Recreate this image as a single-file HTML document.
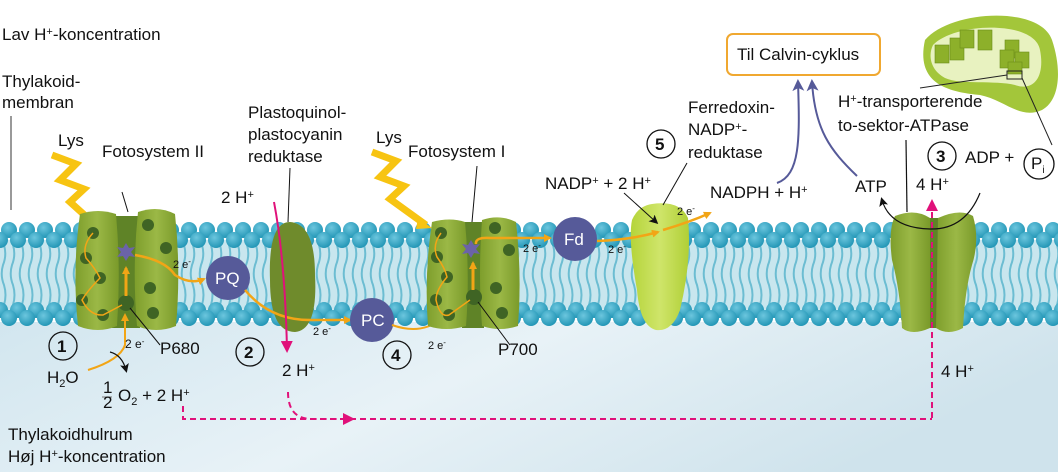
<!DOCTYPE html>
<html><head><meta charset="utf-8"><style>
html,body{margin:0;padding:0;background:#fff}
svg{display:block}
text{font-family:"Liberation Sans",sans-serif;font-size:17px;fill:#111}
.s{font-size:11px}
</style></head><body>
<svg width="1058" height="472" viewBox="0 0 1058 472" xmlns="http://www.w3.org/2000/svg">
<defs>
<linearGradient id="lum" x1="0" y1="0" x2="1" y2="0.3">
<stop offset="0" stop-color="#d2e6ef"/><stop offset="0.5" stop-color="#e8f2f7"/><stop offset="1" stop-color="#cfe3ec"/></linearGradient>
<radialGradient id="hd" cx="0.4" cy="0.35" r="0.7"><stop offset="0" stop-color="#6cc6de"/><stop offset="1" stop-color="#1e93b3"/></radialGradient>
<pattern id="lip" x="0" y="220" width="18" height="110" patternUnits="userSpaceOnUse">
<rect x="0" y="20" width="18" height="75" fill="#c8e6ee"/>
<path d="M4 25 q3 10 -1 20 q-3 10 1 20 q3 10 0 20 M13 25 q3 10 -1 20 q-3 10 1 20 q3 10 0 20" stroke="#6cbdd2" stroke-width="2" fill="none"/>
<circle cx="9" cy="10" r="8" fill="url(#hd)"/>
<circle cx="0" cy="20" r="8" fill="url(#hd)"/><circle cx="18" cy="20" r="8" fill="url(#hd)"/>
<circle cx="0" cy="90" r="8" fill="url(#hd)"/><circle cx="18" cy="90" r="8" fill="url(#hd)"/>
<circle cx="9" cy="98" r="8" fill="url(#hd)"/>
</pattern>
<linearGradient id="gr" x1="0" x2="1"><stop offset="0" stop-color="#7e9e2c"/><stop offset="0.5" stop-color="#9bb846"/><stop offset="1" stop-color="#7a9a2a"/></linearGradient>
<linearGradient id="gl" x1="0" x2="1"><stop offset="0" stop-color="#b5d43a"/><stop offset="0.5" stop-color="#cfe56a"/><stop offset="1" stop-color="#b0cf36"/></linearGradient>
<marker id="ao" markerWidth="8" markerHeight="8" refX="6" refY="4" orient="auto" markerUnits="userSpaceOnUse"><path d="M0 0 L8 4 L0 8 Z" fill="#f2a516"/></marker>
<marker id="ab" markerWidth="9" markerHeight="9" refX="6" refY="4.5" orient="auto" markerUnits="userSpaceOnUse"><path d="M0 0 L9 4.5 L0 9 L2 4.5Z" fill="#111"/></marker>
<marker id="ap" markerWidth="12" markerHeight="12" refX="9" refY="6" orient="auto" markerUnits="userSpaceOnUse"><path d="M0 0 L12 6 L0 12 Z" fill="#e0117a"/></marker>
<marker id="av" markerWidth="12" markerHeight="12" refX="9" refY="6" orient="auto" markerUnits="userSpaceOnUse"><path d="M0 0 L12 6 L0 12 L3 6Z" fill="#565a99"/></marker>
</defs>
<rect x="0" y="322" width="1058" height="150" fill="url(#lum)"/>
<rect x="0" y="220" width="1058" height="110" fill="url(#lip)"/>

<text x="2" y="40">Lav H<tspan font-size="11" dy="-5">+</tspan><tspan dy="5">-koncentration</tspan></text>
<text x="2" y="87">Thylakoid-</text><text x="2" y="108">membran</text>
<line x1="11" y1="116" x2="11" y2="210" stroke="#777" stroke-width="1.5"/>
<text x="58" y="146">Lys</text><text x="102" y="157">Fotosystem II</text>
<text x="248" y="118">Plastoquinol-</text><text x="248" y="140">plastocyanin</text><text x="248" y="162">reduktase</text>
<text x="376" y="143">Lys</text><text x="408" y="157">Fotosystem I</text>
<text x="688" y="113">Ferredoxin-</text><text x="688" y="135">NADP<tspan font-size="11" dy="-5">+</tspan><tspan dy="5">-</tspan></text><text x="688" y="158">reduktase</text>
<circle cx="661" cy="144" r="14" fill="#fff" stroke="#111" stroke-width="1.3"/><text x="655" y="150" font-weight="bold">5</text>
<text x="545" y="189">NADP<tspan font-size="11" dy="-5">+</tspan><tspan dy="5"> + 2 H</tspan><tspan font-size="11" dy="-5">+</tspan></text>
<text x="710" y="198">NADPH  + H<tspan font-size="11" dy="-5">+</tspan></text>
<text x="855" y="192">ATP</text>
<text x="838" y="107">H<tspan font-size="11" dy="-5">+</tspan><tspan dy="5">-transporterende</tspan></text>
<text x="838" y="131">to-sektor-ATPase</text>
<line x1="906" y1="140" x2="907" y2="212" stroke="#111" stroke-width="1.2"/>
<circle cx="942" cy="156" r="14" fill="#fff" stroke="#111" stroke-width="1.3"/><text x="936" y="162" font-weight="bold">3</text>
<text x="965" y="163">ADP +</text>
<circle cx="1039" cy="164" r="15" fill="#fff" stroke="#111" stroke-width="1.3"/><text x="1031" y="169">P<tspan font-size="10" dy="4">i</tspan></text>
<text x="916" y="190">4 H<tspan font-size="11" dy="-5">+</tspan></text>

<rect x="727" y="34" width="153" height="41" rx="6" fill="#fff" stroke="#f0a830" stroke-width="2"/>
<text x="737" y="60">Til Calvin-cyklus</text>
<path d="M777 183 C800 175 800 140 798 82" stroke="#565a99" stroke-width="2" fill="none" marker-end="url(#av)"/>
<path d="M857 176 C830 150 815 130 812 82" stroke="#565a99" stroke-width="2" fill="none" marker-end="url(#av)"/>

<path d="M925 40 C950 10 1040 5 1052 40 C1062 70 1060 100 1042 110 C1020 120 1005 100 980 95 C950 92 915 85 925 40Z" fill="#a3c63a"/>
<path d="M933 45 C955 22 1035 20 1040 50 C1045 75 1035 92 1015 85 C995 80 960 85 945 78 C930 70 928 55 933 45Z" fill="#e8f2c0"/>
<g fill="#8db02a" stroke="#6c8c1a" stroke-width="0.6">
<rect x="935" y="45" width="14" height="18"/><rect x="950" y="38" width="14" height="22"/><rect x="960" y="30" width="14" height="18"/><rect x="978" y="30" width="14" height="20"/><rect x="1005" y="40" width="14" height="18"/><rect x="1000" y="50" width="14" height="18"/><rect x="1015" y="52" width="14" height="16"/><rect x="1008" y="62" width="14" height="12"/>
</g>
<rect x="1007" y="71" width="15" height="8" fill="none" stroke="#222" stroke-width="1"/>
<line x1="1007" y1="75" x2="920" y2="88" stroke="#222" stroke-width="1"/>
<line x1="1022" y1="78" x2="1052" y2="145" stroke="#222" stroke-width="1"/>

<g fill="none" stroke="#f7c412" stroke-width="7" stroke-linejoin="miter" stroke-miterlimit="10">
<polyline points="52,155 76,164 60,180 84,189 70,202 90,220"/>
<polyline points="372,152 396,161 380,177 404,186 390,199 426,225"/>
</g>
<path d="M84 214 L96 226 L82 224Z" fill="#f7c412"/>
<path d="M418 218 L432 228 L416 229Z" fill="#f7c412"/>

<rect x="112" y="216" width="28" height="112" fill="#5f8327"/>
<path d="M80 214 Q98 208 116 214 Q121 270 117 326 Q98 334 78 326 Q72 270 80 214Z" fill="url(#gr)"/>
<path d="M138 212 Q158 205 175 214 Q181 270 176 326 Q156 334 137 326 Q132 270 138 212Z" fill="url(#gr)"/>
<g fill="#3f6424"><circle cx="93" cy="233" r="6"/><circle cx="86" cy="258" r="6"/><circle cx="100" cy="278" r="6"/><circle cx="82" cy="300" r="6"/><circle cx="103" cy="315" r="6"/><circle cx="148" cy="225" r="6"/><circle cx="166" cy="248" r="6"/><circle cx="150" cy="288" r="6"/><circle cx="153" cy="313" r="6"/><circle cx="126" cy="303" r="8"/></g>
<polygon points="126,243 129,248 135,247 131,252 135,257 129,256 126,261 123,256 117,257 121,252 117,247 123,248" fill="#6b63a8"/>
<path d="M93 233 Q82 245 86 258 Q95 268 100 278 Q88 290 82 300 Q90 316 103 315 L122 305" stroke="#f2a516" stroke-width="1.5" fill="none"/>
<path d="M126 296 L126 268" stroke="#f2a516" stroke-width="3" fill="none" marker-end="url(#ao)"/>
<path d="M88 370 Q120 360 125 345 L125 315" stroke="#f2a516" stroke-width="2" fill="none" marker-end="url(#ao)"/>
<path d="M135 255 Q165 260 175 275 Q190 285 204 279" stroke="#f2a516" stroke-width="2.5" fill="none" marker-end="url(#ao)"/>
<line x1="122" y1="192" x2="128" y2="212" stroke="#111"/>

<circle cx="228" cy="278" r="22" fill="#565a99"/><text x="215" y="284" style="fill:#fff">PQ</text>
<text class="s" x="173" y="268">2 e<tspan dy="-4" font-size="8">-</tspan></text>
<path d="M290 222 Q315 224 315 275 Q318 330 295 332 Q270 332 270 280 Q268 222 290 222Z" fill="#6f8b2c"/>
<line x1="290" y1="168" x2="288" y2="222" stroke="#111"/>
<path d="M245 290 Q270 320 310 320 L350 320" stroke="#f2a516" stroke-width="2.5" fill="none" marker-end="url(#ao)"/>
<text class="s" x="313" y="335">2 e<tspan dy="-4" font-size="8">-</tspan></text>
<text x="221" y="203">2 H<tspan font-size="11" dy="-5">+</tspan></text>
<path d="M274 202 Q285 260 287 350" stroke="#e0117a" stroke-width="2" fill="none" marker-end="url(#ap)"/>
<circle cx="372" cy="320" r="22" fill="#565a99"/><text x="361" y="326" style="fill:#fff">PC</text>
<path d="M392 325 Q420 335 440 320 Q460 305 472 295" stroke="#f2a516" stroke-width="2" fill="none" marker-end="url(#ao)"/>
<text class="s" x="428" y="349">2 e<tspan dy="-4" font-size="8">-</tspan></text>

<rect x="462" y="222" width="22" height="106" fill="#5f8327"/>
<path d="M432 222 Q450 217 465 222 Q470 275 466 326 Q446 332 428 326 Q424 275 432 222Z" fill="url(#gr)"/>
<path d="M482 220 Q500 214 516 222 Q522 275 518 326 Q500 332 482 326 Q478 275 482 220Z" fill="url(#gr)"/>
<g fill="#3f6424"><circle cx="441" cy="233" r="6"/><circle cx="437" cy="257" r="6"/><circle cx="447" cy="277" r="6"/><circle cx="436" cy="300" r="6"/><circle cx="449" cy="315" r="6"/><circle cx="495" cy="228" r="6"/><circle cx="509" cy="250" r="6"/><circle cx="496" cy="288" r="6"/><circle cx="502" cy="313" r="6"/><circle cx="474" cy="297" r="8"/></g>
<polygon points="471,240 474,245 480,244 476,249 480,254 474,253 471,258 468,253 462,254 466,249 462,244 468,245" fill="#6b63a8"/>
<path d="M441 233 Q432 245 437 257 Q445 268 447 277 Q436 290 436 300 Q440 318 449 315 L470 300" stroke="#f2a516" stroke-width="1.5" fill="none"/>
<path d="M473 290 L473 263" stroke="#f2a516" stroke-width="3" fill="none" marker-end="url(#ao)"/>
<path d="M476 244 Q475 237 490 238 L550 238" stroke="#f2a516" stroke-width="2.5" fill="none" marker-end="url(#ao)"/>
<line x1="477" y1="166" x2="472" y2="222" stroke="#111"/>
<line x1="478" y1="302" x2="510" y2="345" stroke="#111"/>
<line x1="130" y1="308" x2="160" y2="345" stroke="#111"/>
<text class="s" x="523" y="252">2 e<tspan dy="-4" font-size="8">-</tspan></text>
<circle cx="575" cy="239" r="22" fill="#565a99"/><text x="564" y="245" style="fill:#fff">Fd</text>
<text class="s" x="608" y="253">2 e<tspan dy="-4" font-size="8">-</tspan></text>
<path d="M652 204 Q680 200 688 218 Q692 260 680 310 Q672 332 656 330 Q640 326 637 290 Q628 240 632 220 Q638 206 652 204Z" fill="url(#gl)"/>
<line x1="687" y1="163" x2="663" y2="205" stroke="#111"/>
<path d="M597 241 Q630 240 658 232" stroke="#f2a516" stroke-width="2.5" fill="none" marker-end="url(#ao)"/>
<path d="M663 230 Q690 222 710 213" stroke="#f2a516" stroke-width="2.5" fill="none" marker-end="url(#ao)"/>
<text class="s" x="677" y="215">2 e<tspan dy="-4" font-size="8">-</tspan></text>
<line x1="624" y1="193" x2="656" y2="222" stroke="#111" marker-end="url(#ab)"/>

<rect x="920" y="218" width="26" height="110" fill="#5f8327"/>
<path d="M895 216 Q915 208 930 218 L930 328 Q912 336 902 328 Q900 290 892 260 Q888 230 895 216Z" fill="url(#gr)"/>
<path d="M938 218 Q960 208 973 216 Q980 240 972 265 Q965 290 963 328 Q948 336 936 328Z" fill="url(#gr)"/>
<path d="M980 193 Q965 230 930 229 Q890 228 882 200" stroke="#111" stroke-width="1.2" fill="none" marker-end="url(#ab)"/>
<path d="M932 418 L932 202" stroke="#e0117a" stroke-width="2" stroke-dasharray="6,4" fill="none" marker-end="url(#ap)"/>
<path d="M183 406 L183 419 L932 419" stroke="#e0117a" stroke-width="2" stroke-dasharray="6,4" fill="none"/>
<path d="M288 392 Q288 418 310 419 L352 419" stroke="#e0117a" stroke-width="2" stroke-dasharray="6,4" fill="none" marker-end="url(#ap)"/>
<text x="941" y="377">4 H<tspan font-size="11" dy="-5">+</tspan></text>

<circle cx="63" cy="346" r="14" fill="none" stroke="#111" stroke-width="1.3"/><text x="57" y="352" font-weight="bold">1</text>
<circle cx="250" cy="352" r="14" fill="none" stroke="#111" stroke-width="1.3"/><text x="244" y="358" font-weight="bold">2</text>
<circle cx="397" cy="355" r="14" fill="none" stroke="#111" stroke-width="1.3"/><text x="391" y="361" font-weight="bold">4</text>
<text class="s" x="125" y="348" style="font-size:12px">2 e<tspan dy="-4" font-size="8">-</tspan></text>
<text x="160" y="354">P680</text>
<text x="498" y="355">P700</text>
<text x="47" y="383">H<tspan font-size="11" dy="4">2</tspan><tspan dy="-4">O</tspan></text>
<path d="M110 352 Q122 355 126 370" stroke="#111" stroke-width="1.2" fill="none" marker-end="url(#ab)"/>
<text x="103" y="393" font-size="12">1</text><line x1="102" y1="397" x2="112" y2="397" stroke="#777"/><text x="103" y="408" font-size="12">2</text>
<text x="118" y="401">O<tspan font-size="11" dy="4">2</tspan><tspan dy="-4"> + 2 H</tspan><tspan font-size="11" dy="-5">+</tspan></text>
<text x="282" y="376">2 H<tspan font-size="11" dy="-5">+</tspan></text>
<text x="8" y="440">Thylakoidhulrum</text>
<text x="8" y="462">Høj H<tspan font-size="11" dy="-5">+</tspan><tspan dy="5">-koncentration</tspan></text>
</svg>
</body></html>
